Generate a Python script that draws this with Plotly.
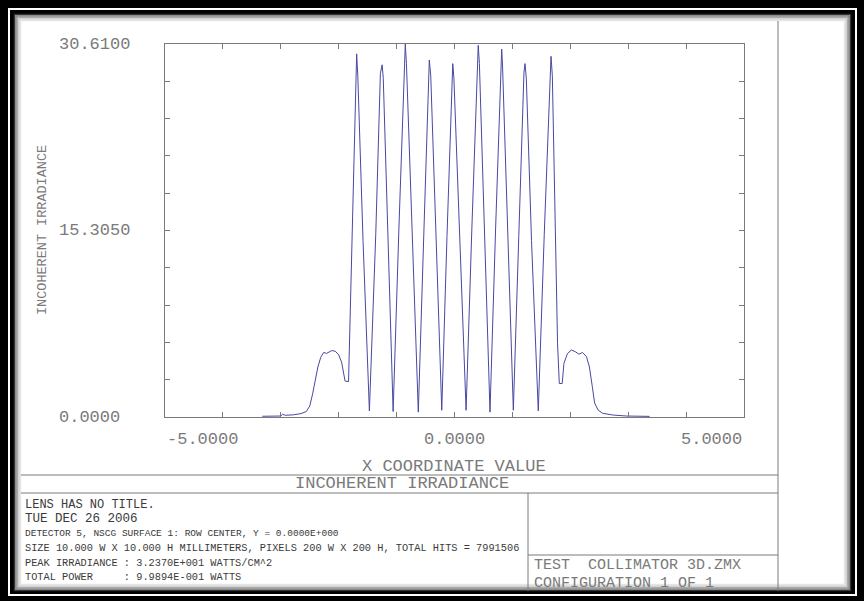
import plotly.graph_objects as go

# ---------------- data ----------------
x_mm = [-3.32, -3.00, -2.97, -2.92, -2.78, -2.65, -2.56, -2.50, -2.45, -2.40,
        -2.36, -2.31, -2.26, -2.21, -2.17, -2.12, -2.06, -2.00, -1.95, -1.91,
        -1.89, -1.83, -1.79, -1.74, -1.70, -1.69, -1.67, -1.58, -1.47, -1.36,
        -1.28, -1.25, -1.23, -1.14, -1.06, -0.96, -0.86, -0.85, -0.83, -0.73,
        -0.625, -0.53, -0.45, -0.435, -0.41, -0.32, -0.22, -0.13, -0.04, -0.03,
        -0.01, 0.09, 0.20, 0.30, 0.40, 0.41, 0.43, 0.52, 0.613, 0.71,
        0.80, 0.815, 0.83, 0.92, 1.016, 1.11, 1.20, 1.218, 1.24, 1.33,
        1.447, 1.55, 1.65, 1.667, 1.69, 1.73, 1.78, 1.81, 1.86, 1.89,
        1.95, 2.02, 2.09, 2.15, 2.21, 2.28, 2.33, 2.38, 2.42, 2.48,
        2.56, 2.74, 2.97, 3.37]
irradiance = [0.06, 0.08, 0.22, 0.14, 0.18, 0.28, 0.45, 0.9, 1.9, 3.1,
              4.1, 4.9, 5.3, 5.22, 5.35, 5.45, 5.4, 5.1, 4.5, 3.4,
              2.95, 2.9, 10.5, 20.0, 28.5, 29.8, 28.0, 14.5, 0.5, 15.0,
              28.2, 28.9, 27.8, 14.0, 0.45, 15.5, 30.0, 30.6, 29.0, 15.0,
              0.4, 15.0, 28.6, 29.3, 28.0, 14.5, 0.55, 14.8, 28.4, 29.0,
              27.8, 14.0, 0.55, 15.5, 29.8, 30.5, 29.0, 15.0, 0.4, 15.5,
              29.6, 30.2, 28.8, 14.8, 0.55, 14.8, 28.3, 29.0, 27.8, 14.5,
              0.5, 15.0, 28.8, 29.6, 28.0, 17.0, 6.0, 2.75, 2.75, 4.4,
              5.2, 5.5, 5.35, 5.15, 5.3, 4.95, 4.1, 2.5, 1.15, 0.57,
              0.3, 0.16, 0.08, 0.05]

x_tick_values = [-5.0, 0.0, 5.0]
x_tick_labels = ["-5.0000", "0.0000", "5.0000"]
y_tick_values = [30.61, 15.305, 0.0]
y_tick_labels = ["30.6100", "15.3050", "0.0000"]

x_title = "X COORDINATE VALUE"
y_title = "INCOHERENT IRRADIANCE"
band_title = "INCOHERENT IRRADIANCE"
info_lines = [
    "LENS HAS NO TITLE.",
    "TUE DEC 26 2006",
    "DETECTOR 5, NSCG SURFACE 1: ROW CENTER, Y = 0.0000E+000",
    "SIZE 10.000 W X 10.000 H MILLIMETERS, PIXELS 200 W X 200 H, TOTAL HITS = 7991506",
    "PEAK IRRADIANCE : 3.2370E+001 WATTS/CM^2",
    "TOTAL POWER     : 9.9894E-001 WATTS",
]
file_lines = ["TEST  COLLIMATOR 3D.ZMX", "CONFIGURATION 1 OF 1"]

# ---------------- layout geometry (pixels) ----------------
W, H = 864, 601
L, R, T, B = 165, 744, 44, 417


def px(x):
    return (x - L) / (R - L)


def py(y):
    return (B - y) / (B - T)


FONT = "Liberation Mono, DejaVu Sans Mono, monospace"
GRAY = "#7a7a7a"
LINE = "#7a7a7a"

fig = go.Figure()
fig.add_trace(go.Scatter(x=x_mm, y=irradiance, mode="lines",
                         line=dict(color="#4848a2", width=1),
                         hoverinfo="skip", showlegend=False))

shapes = []
# page frame (black surround, thin white rule, shadowed white page)
shapes.append(dict(type="rect", xref="paper", yref="paper", layer="below",
                   x0=px(9), x1=px(856), y0=py(9), y1=py(595),
                   line=dict(color="white", width=2), fillcolor="black"))
shapes.append(dict(type="rect", xref="paper", yref="paper", layer="below",
                   x0=px(14), x1=px(851), y0=py(14), y1=py(591),
                   line=dict(width=0), fillcolor="white"))
for off, col in [(14.5, "#333333"), (16, "#777777"), (17.5, "#aaaaaa"),
                 (19, "#cccccc"), (20.5, "#e6e6e6")]:
    shapes.append(dict(type="rect", xref="paper", yref="paper", layer="below",
                       x0=px(off), x1=px(865 - off), y0=py(off), y1=py(605 - off),
                       line=dict(color=col, width=1.5)))


def seg(x0, y0, x1, y1):
    shapes.append(dict(type="line", xref="paper", yref="paper",
                       x0=px(x0), x1=px(x1), y0=py(y0), y1=py(y1),
                       line=dict(color=LINE, width=1)))


seg(778, 21, 778, 591)     # right column divider
seg(21, 475, 778, 475)     # band top
seg(21, 493, 778, 493)     # band bottom
seg(528, 493, 528, 591)    # info / file divider
seg(528, 555, 778, 555)    # file box top

annotations = []
for v, t in zip(y_tick_values, y_tick_labels):
    annotations.append(dict(x=px(57), xref="paper", y=v, yref="y", text=t,
                            showarrow=False, xanchor="left", yanchor="middle",
                            font=dict(family=FONT, size=17, color=GRAY)))
for v, t, anc in zip(x_tick_values, x_tick_labels, ["left", "center", "right"]):
    annotations.append(dict(x=v, xref="x", y=py(439), yref="paper", text=t,
                            showarrow=False, xanchor=anc, yanchor="middle",
                            font=dict(family=FONT, size=17, color=GRAY)))
annotations.append(dict(x=px(454), xref="paper", y=py(466), yref="paper",
                        text=x_title, showarrow=False, xanchor="center",
                        yanchor="middle",
                        font=dict(family=FONT, size=17, color=GRAY)))
annotations.append(dict(x=px(42), xref="paper", y=py(230), yref="paper",
                        text=y_title, showarrow=False, textangle=-90,
                        xanchor="center", yanchor="middle",
                        font=dict(family=FONT, size=13.5, color=GRAY)))
annotations.append(dict(x=px(402), xref="paper", y=py(484), yref="paper",
                        text=band_title, showarrow=False, xanchor="center",
                        yanchor="middle",
                        font=dict(family=FONT, size=17, color=GRAY)))
info_y = [505, 519, 533, 548, 563, 577]
info_sz = [12, 12.5, 9.5, 10.3, 10.3, 10.3]
for t, yy, s in zip(info_lines, info_y, info_sz):
    annotations.append(dict(x=px(23), xref="paper", y=py(yy), yref="paper",
                            text=t.replace(" ", "&nbsp;"), showarrow=False,
                            xanchor="left", yanchor="middle",
                            font=dict(family=FONT, size=s, color="#3a3a3a")))
for t, yy in zip(file_lines, [565.5, 583]):
    annotations.append(dict(x=px(532), xref="paper", y=py(yy), yref="paper",
                            text=t.replace(" ", "&nbsp;"), showarrow=False,
                            xanchor="left", yanchor="middle",
                            font=dict(family=FONT, size=15, color=GRAY)))

axis_common = dict(showgrid=False, zeroline=False, showline=True, mirror="ticks",
                   linecolor=LINE, linewidth=1, ticks="inside", ticklen=5,
                   tickcolor=LINE, showticklabels=False, fixedrange=True)

fig.update_layout(
    width=W, height=H,
    margin=dict(l=L, r=W - R, t=T, b=H - B, pad=0),
    paper_bgcolor="black", plot_bgcolor="white",
    xaxis=dict(range=[-5, 5], tick0=-5, dtick=1, **axis_common),
    yaxis=dict(range=[0, 30.61], tick0=0, dtick=3.061, **axis_common),
    shapes=shapes, annotations=annotations, showlegend=False,
)

fig.write_html("out.html", config={"displayModeBar": False},
               post_script="document.body.style.margin='0';"
                           "document.body.style.overflow='hidden';")
